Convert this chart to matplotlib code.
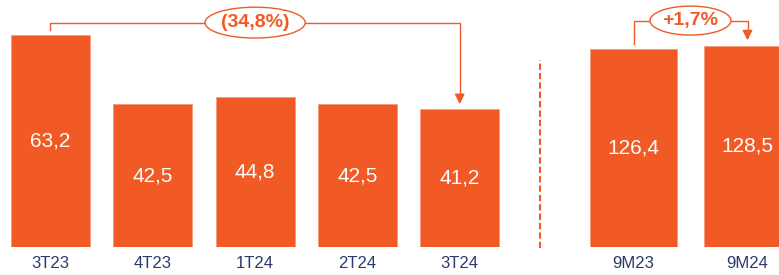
import matplotlib
matplotlib.use("Agg")
import matplotlib.pyplot as plt
from matplotlib.patches import Ellipse
from matplotlib.lines import Line2D

# dane
kwartaly = ["3T23", "4T23", "1T24", "2T24", "3T24"]
wartosci_kw = [63.2, 42.5, 44.8, 42.5, 41.2]
okresy = ["9M23", "9M24"]
wartosci_9m = [126.4, 128.5]
zmiana_kw = "(34,8%)"
zmiana_9m = "+1,7%"

pomarancz = "#F15A24"
granat = "#2B3A6B"
plt.rcParams["font.family"] = ["Liberation Sans", "DejaVu Sans"]

fig = plt.figure(figsize=(7.79, 2.75), dpi=100)
W, H = 779, 275
dol = 28 / H

# lewa czesc - kwartaly
ax1 = fig.add_axes([0, dol, 520 / W, 1 - dol])
x1 = list(range(len(kwartaly)))
ax1.bar(x1, wartosci_kw, width=0.772, color=pomarancz, edgecolor="#F79A78", linewidth=0.6)
ax1.set_xlim(-50.5 / 102.3, (520 - 50.5) / 102.3)
ax1.set_ylim(0, 247 / 3.354)
for x, v in zip(x1, wartosci_kw):
    ax1.text(x, v / 2, f"{v:.1f}".replace(".", ","), color="white", fontsize=15,
             ha="center", va="center")
    ax1.text(x, -4.8, kwartaly[x], color=granat, fontsize=12, ha="center", va="center",
             clip_on=False)

# strzalka (34,8%)
gora = max(wartosci_kw) + 3.7
ax1.plot([x1[0], x1[0], x1[-1], x1[-1]],
         [wartosci_kw[0] + 1.5, gora, gora, wartosci_kw[-1] + 4],
         color=pomarancz, lw=1, clip_on=False, solid_joinstyle="miter")
ax1.annotate("", xy=(x1[-1], wartosci_kw[-1] + 1.4), xytext=(x1[-1], wartosci_kw[-1] + 4.2),
             arrowprops=dict(arrowstyle="-|>,head_width=0.3,head_length=0.6",
                             color=pomarancz, lw=1, shrinkA=0, shrinkB=0))
ax1.add_patch(Ellipse((2, gora), 0.98, 9.2, facecolor="white", edgecolor=pomarancz,
                      lw=1, clip_on=False, zorder=3))
ax1.text(2, gora, zmiana_kw, color=pomarancz, fontsize=14, fontweight="bold",
         ha="center", va="center", zorder=4)
ax1.axis("off")

# prawa czesc - 9 miesiecy
ax2 = fig.add_axes([530 / W, dol, 249 / W, 1 - dol])
x2 = list(range(len(okresy)))
ax2.bar(x2, wartosci_9m, width=0.763, color=pomarancz, edgecolor="#F79A78", linewidth=0.6)
ax2.set_xlim((530 - 633.5) / 114, (779 - 633.5) / 114)
ax2.set_ylim(0, 247 / 1.567)
for x, v in zip(x2, wartosci_9m):
    ax2.text(x, v / 2, f"{v:.1f}".replace(".", ","), color="white", fontsize=15,
             ha="center", va="center")
    ax2.text(x, -10.3, okresy[x], color=granat, fontsize=12, ha="center", va="center",
             clip_on=False)

gora2 = max(wartosci_9m) + 16
ax2.plot([x2[0], x2[0], x2[1], x2[1]],
         [wartosci_9m[0] + 3.1, gora2, gora2, wartosci_9m[1] + 9],
         color=pomarancz, lw=1, clip_on=False, solid_joinstyle="miter")
ax2.annotate("", xy=(x2[1], wartosci_9m[1] + 3.4), xytext=(x2[1], wartosci_9m[1] + 9.2),
             arrowprops=dict(arrowstyle="-|>,head_width=0.3,head_length=0.6",
                             color=pomarancz, lw=1, shrinkA=0, shrinkB=0))
ax2.add_patch(Ellipse((0.5, gora2), 0.71, 18.5, facecolor="white", edgecolor=pomarancz,
                      lw=1, clip_on=False, zorder=3))
ax2.text(0.5, gora2, zmiana_9m, color=pomarancz, fontsize=14, fontweight="bold",
         ha="center", va="center", zorder=4)
ax2.axis("off")

# linia przerywana
fig.add_artist(Line2D([540 / W, 540 / W], [27 / H, 215 / H], transform=fig.transFigure,
                      color=pomarancz, lw=1.5, ls=(0, (3, 1.5))))

plt.savefig("out.png", dpi=100)
